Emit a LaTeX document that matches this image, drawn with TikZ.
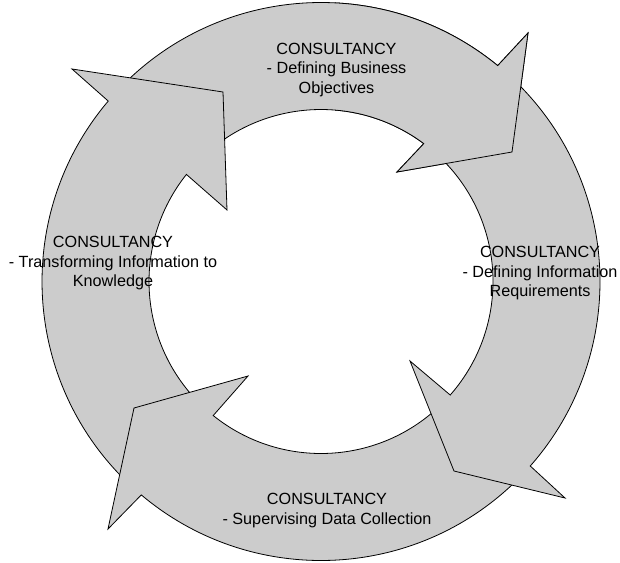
\documentclass[tikz,border=0pt]{standalone}
\usepackage{fontspec}
\setmainfont{Liberation Sans}
\usetikzlibrary{calc}
\begin{document}
\begin{tikzpicture}[x=1pt,y=-1pt,
  segment/.style={fill=ringgray,draw=black,line width=0.8pt,line join=miter},
  label/.style={align=center,anchor=north,inner sep=0pt,
    font=\fontsize{16.2}{19.5}\selectfont}]
\definecolor{ringgray}{RGB}{204,204,204}
\useasboundingbox (0,0) rectangle (620,562);
\coordinate (C) at (321,281.5);
% radii of the ring
\def\Ro{279}
\def\Ri{172}

% arrowheads: outer barb, tip, inner barb
\coordinate (tOB) at (528,33);  \coordinate (tT) at (512,152); \coordinate (tIB) at (397,172);
\coordinate (rOB) at (565,498); \coordinate (rT) at (454,471); \coordinate (rIB) at (410,361);
\coordinate (bOB) at (108,529); \coordinate (bT) at (134,408); \coordinate (bIB) at (248,376);
\coordinate (lOB) at (72,69);   \coordinate (lT) at (223,92);  \coordinate (lIB) at (227,210);

% top arrow: defining business objectives
\def\toparrow{%
  \path[segment] ($(C)+(-136:\Ro)$) arc[start angle=-136,end angle=-50.7,radius=\Ro]
    -- (tOB) -- (tT) -- (tIB) -- ($(C)+(-53.3:\Ri)$)
    arc[start angle=-53.3,end angle=-136,radius=\Ri] -- cycle;}
\toparrow
% left arrow: transforming information to knowledge
\path[segment] ($(C)+(133.5:\Ro)$) arc[start angle=133.5,end angle=220.3,radius=\Ro]
  -- (lOB) -- (lT) -- (lIB) -- ($(C)+(218.5:\Ri)$)
  arc[start angle=218.5,end angle=133.5,radius=\Ri] -- cycle;
% bottom arrow: supervising data collection
\path[segment] ($(C)+(45:\Ro)$) arc[start angle=45,end angle=130.1,radius=\Ro]
  -- (bOB) -- (bT) -- (bIB) -- ($(C)+(128.8:\Ri)$)
  arc[start angle=128.8,end angle=45,radius=\Ri] -- cycle;
% right arrow: defining information requirements
\path[segment] ($(C)+(-47:\Ro)$) arc[start angle=-47,end angle=41.4,radius=\Ro]
  -- (rOB) -- (rT) -- (rIB) -- ($(C)+(41.3:\Ri)$)
  arc[start angle=41.3,end angle=-47,radius=\Ri] -- cycle;
% the top arrowhead lies over the tail of the right arrow
\begin{scope}
  \clip (335,0) rectangle (620,250);
  \toparrow
\end{scope}

\node[label] (lbtop)    at (336.5,42.7) {CONSULTANCY\\- Defining Business\\Objectives};
\node[label] (lbright)  at (540,246)    {CONSULTANCY\\- Defining Information\\Requirements};
\node[label] (lbbottom) at (327,493.3)  {CONSULTANCY\\- Supervising Data Collection};
\node[label] (lbleft)   at (113,236)    {CONSULTANCY\\- Transforming Information to\\Knowledge};
\end{tikzpicture}
\end{document}
